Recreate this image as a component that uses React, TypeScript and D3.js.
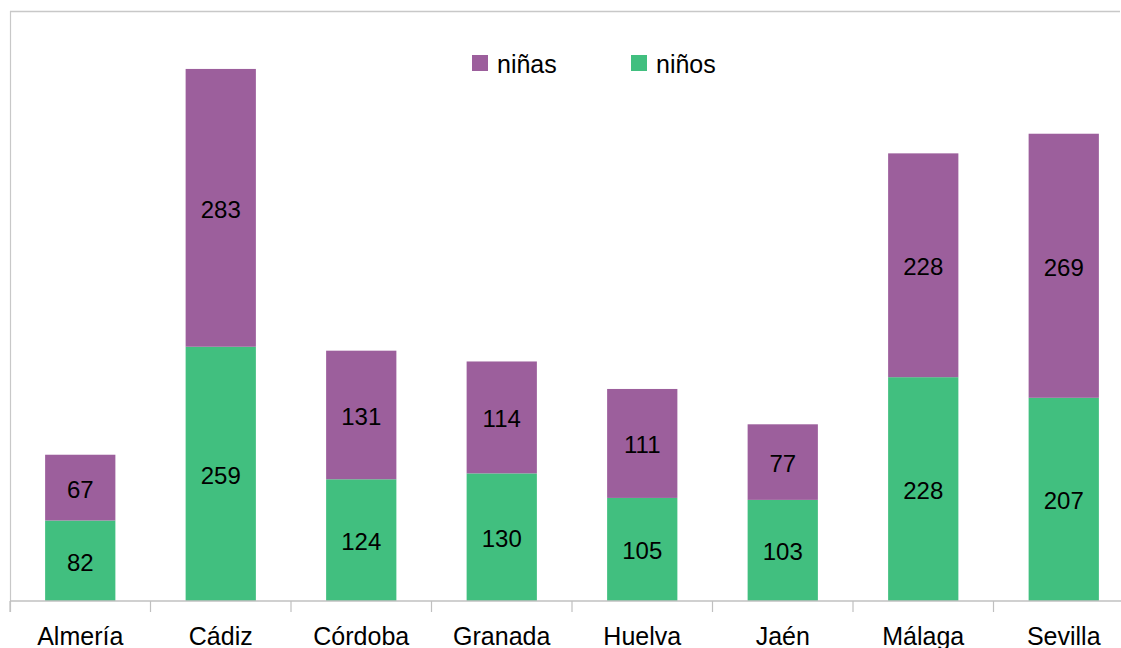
import React from "react";
import * as d3 from "d3";

const categories = ["Almería", "Cádiz", "Córdoba", "Granada", "Huelva", "Jaén", "Málaga", "Sevilla"];
const ninos = [82, 259, 124, 130, 105, 103, 228, 207];
const ninas = [67, 283, 131, 114, 111, 77, 228, 269];
const seriesNames = ["niñas", "niños"];
const colors = { ninas: "#9C5F9C", ninos: "#41BF7F" };

export default function App() {
  const W = 1121, H = 648;
  const left = 10, bandW = 140.5;
  const x = d3.scaleBand<string>().domain(categories).range([left, left + bandW * categories.length]).paddingInner(0.5).paddingOuter(0.25);
  const y = d3.scaleLinear().domain([0, 600]).range([601, 12]);
  const font = "Liberation Sans, Arial, sans-serif";
  const tickXs = d3.range(categories.length + 1).map((i) => left + i * bandW);
  return (
    <svg width={W} height={H} style={{ position: "absolute", left: 0, top: 0 }} fontFamily={font}>
      <rect x={0} y={0} width={W} height={H} fill="#fff" />
      <line x1={10} x2={1120} y1={11.5} y2={11.5} stroke="#c8c8c8" strokeWidth={1.5} />
      <line x1={10.5} x2={10.5} y1={11} y2={612} stroke="#c8c8c8" strokeWidth={1.2} />
      {categories.map((c, i) => {
        const bx = x(c)!;
        const bw = x.bandwidth();
        const y0 = y(0), y1 = y(ninos[i]), y2 = y(ninos[i] + ninas[i]);
        return (
          <g key={c}>
            <rect x={bx} y={y1} width={bw} height={y0 - y1} fill={colors.ninos} />
            <rect x={bx} y={y2} width={bw} height={y1 - y2} fill={colors.ninas} />
            <text x={bx + bw / 2} y={(y0 + y1) / 2 + 1.5} dy="0.35em" textAnchor="middle" fontSize={24} fill="#000">{ninos[i]}</text>
            <text x={bx + bw / 2} y={(y1 + y2) / 2 + 1.5} dy="0.35em" textAnchor="middle" fontSize={24} fill="#000">{ninas[i]}</text>
            <text x={bx + bw / 2} y={645} textAnchor="middle" fontSize={25} fill="#000">{c}</text>
          </g>
        );
      })}
      <line x1={10} x2={W} y1={601} y2={601} stroke="#c0c0c0" strokeWidth={1.5} />
      {tickXs.map((t, i) => (
        <line key={i} x1={t} x2={t} y1={601} y2={612} stroke="#c0c0c0" strokeWidth={1.2} />
      ))}
      <g>
        <rect x={472} y={55} width={16} height={16} fill={colors.ninas} />
        <text x={497} y={73} fontSize={25} fill="#000">{seriesNames[0]}</text>
        <rect x={631} y={55} width={16} height={16} fill={colors.ninos} />
        <text x={656} y={73} fontSize={25} fill="#000">{seriesNames[1]}</text>
      </g>
    </svg>
  );
}
